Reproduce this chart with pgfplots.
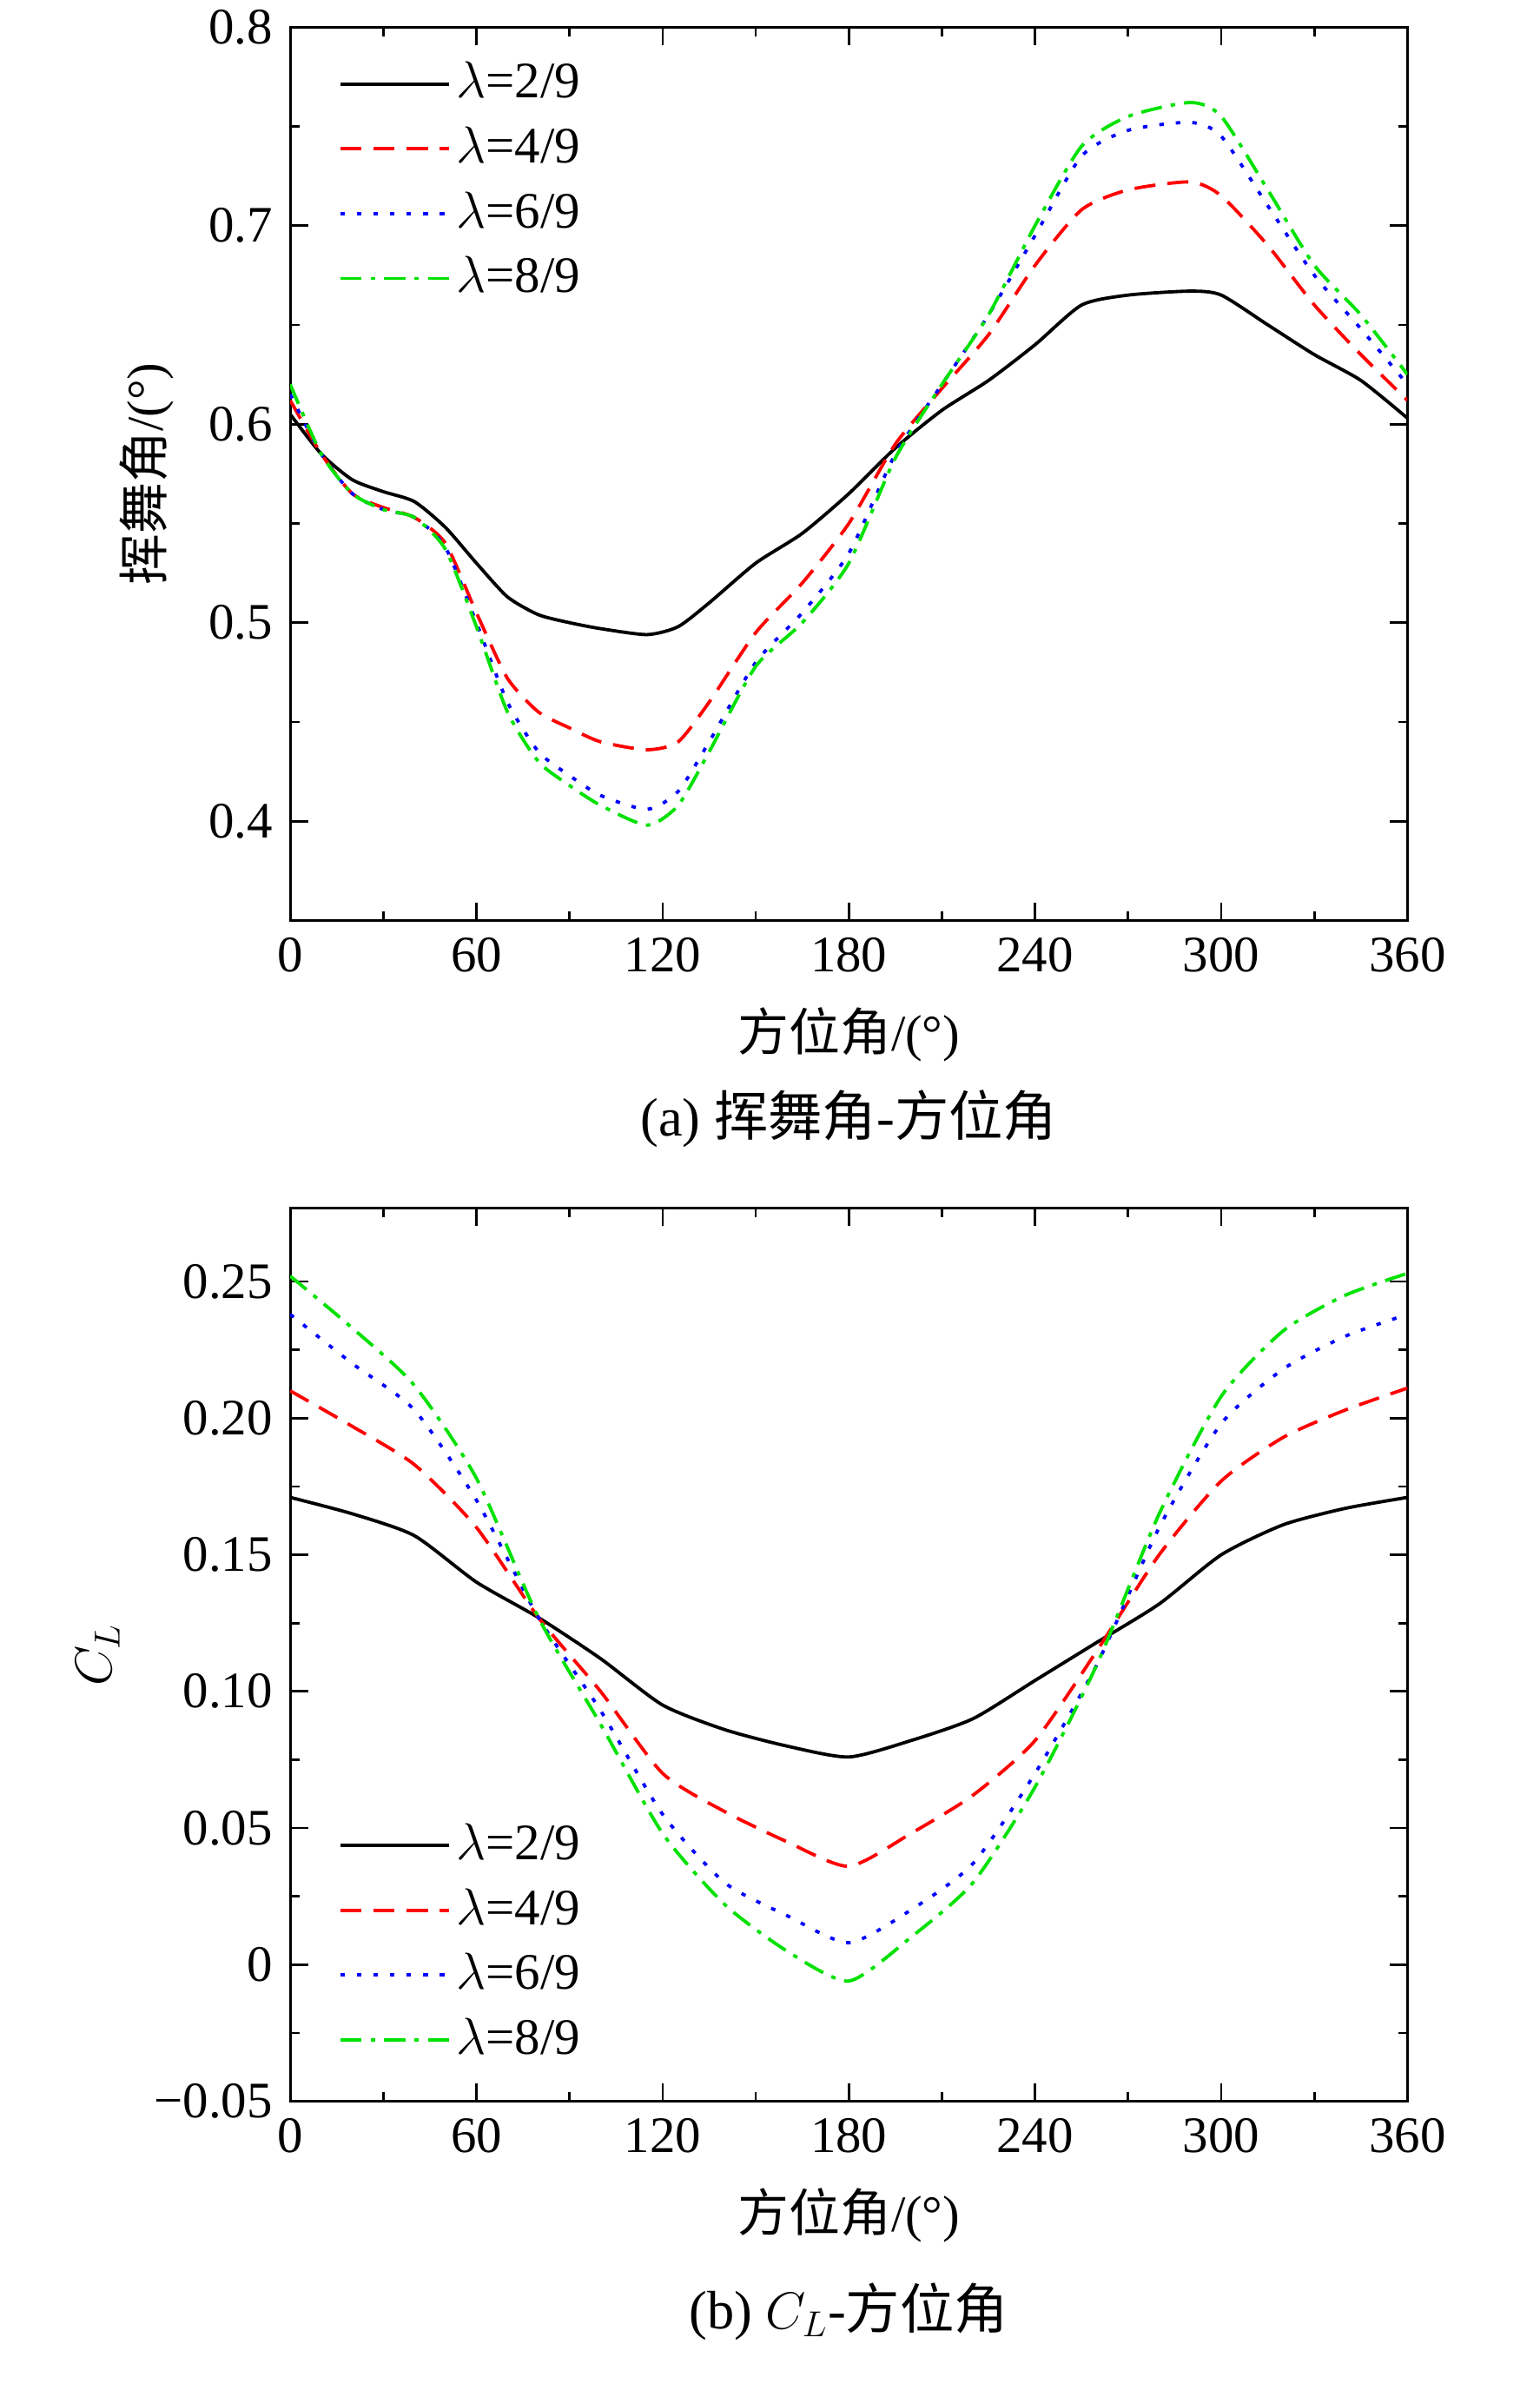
\documentclass[border=0pt]{standalone}
\usepackage{pgfplots}
\pgfplotsset{compat=1.18}
\usepackage{fontspec}
\setmainfont{Liberation Serif}
\newfontfamily\cjk{Noto Sans CJK SC}
\definecolor{mygreen}{RGB}{0,225,0}
\begin{document}
\fontsize{17}{20}\selectfont
\begin{tikzpicture}
\useasboundingbox (-96.5pt,-94pt) rectangle (415.5pt,698.5pt);
\pgfplotsset{every axis/.append style={
 scale only axis, width=371.5pt, height=297pt,
 xmin=0,xmax=360, xtick={0,60,...,360},
 xticklabels={0,60,120,180,240,300,360},
 minor x tick num=1, minor y tick num=1,
 tick align=inside, tick pos=both,
 major tick length=6pt, minor tick length=3pt,
 tick style={black, line width=0.8pt}, axis line style={line width=0.8pt},
 ticklabel style={font=\fontsize{17}{20}\selectfont},
 label style={font=\fontsize{17}{20}\selectfont},
 xlabel={\cjk 方位角\rmfamily/(°)},
 legend style={draw=none, fill=none, at={(0.035,0.975)}, anchor=north west, font=\fontsize{17}{20}\selectfont, row sep=3pt},
 legend cell align=left,
 legend image code/.code={\draw[#1] (0pt,0pt) -- (36pt,0pt);},
 every axis plot/.append style={line width=1.1pt, smooth, tension=0.4},
}}
\tikzset{dsh/.style={dash pattern=on 7pt off 4pt},
 dtt/.style={dash pattern=on 1.5pt off 4pt},
 dd/.style={dash pattern=on 7pt off 3pt on 1.5pt off 3pt}}
\begin{axis}[at={(0,392.5pt)},
 ymin=0.35,ymax=0.8, ytick={0.4,0.5,0.6,0.7,0.8},
 yticklabels={0.4,0.5,0.6,0.7,0.8},
 ylabel={\cjk 挥舞角\rmfamily/(°)}]
\addplot[black] coordinates {(0,0.605)(10,0.585)(20,0.572)(30,0.566)(40,0.561)(50,0.548)(60,0.530)(70,0.513)(80,0.504)(90,0.500)(100,0.497)(115,0.494)(125,0.498)(135,0.510)(150,0.530)(165,0.545)(180,0.565)(195,0.588)(210,0.607)(225,0.622)(240,0.640)(255,0.660)(270,0.665)(290,0.667)(300,0.665)(315,0.650)(330,0.635)(345,0.622)(360,0.603)};
\addplot[red,dsh] coordinates {(0,0.612)(10,0.585)(20,0.565)(30,0.558)(40,0.553)(50,0.540)(60,0.505)(70,0.472)(80,0.455)(90,0.447)(100,0.440)(115,0.436)(125,0.440)(135,0.460)(150,0.495)(165,0.520)(180,0.550)(195,0.590)(210,0.618)(225,0.645)(240,0.680)(255,0.708)(270,0.718)(290,0.722)(300,0.715)(315,0.690)(330,0.660)(345,0.635)(360,0.612)};
\addplot[blue,dtt] coordinates {(0,0.615)(10,0.585)(20,0.565)(30,0.557)(40,0.553)(50,0.538)(60,0.500)(70,0.460)(80,0.435)(90,0.423)(100,0.413)(115,0.406)(125,0.415)(135,0.440)(150,0.480)(165,0.505)(180,0.535)(195,0.585)(210,0.620)(225,0.655)(240,0.695)(255,0.735)(270,0.748)(290,0.752)(300,0.745)(315,0.710)(330,0.675)(345,0.648)(360,0.620)};
\addplot[mygreen,dd] coordinates {(0,0.620)(10,0.585)(20,0.565)(30,0.557)(40,0.553)(50,0.537)(60,0.498)(70,0.455)(80,0.430)(90,0.418)(100,0.408)(115,0.398)(125,0.408)(135,0.435)(150,0.478)(165,0.500)(180,0.530)(195,0.583)(210,0.620)(225,0.655)(240,0.700)(255,0.740)(270,0.755)(290,0.762)(300,0.755)(315,0.718)(330,0.680)(345,0.655)(360,0.625)};
\legend{$\lambda$=2/9,$\lambda$=4/9,$\lambda$=6/9,$\lambda$=8/9}
\end{axis}
\node at (185.75pt,326.5pt) {\fontsize{18}{20}\selectfont (a) {\cjk 挥舞角}-{\cjk 方位角}};
\begin{axis}[at={(0,0)},
 ymin=-0.05,ymax=0.277, ytick={-0.05,0,0.05,0.10,0.15,0.20,0.25},
 yticklabels={−0.05,0,0.05,0.10,0.15,0.20,0.25},
 ylabel={$C_L$},
 legend style={at={(0.035,0.03)}, anchor=south west}]
\addplot[black] coordinates {(0,0.171)(20,0.165)(40,0.157)(60,0.140)(80,0.127)(100,0.112)(120,0.095)(140,0.086)(160,0.080)(180,0.076)(200,0.082)(220,0.090)(240,0.104)(260,0.118)(280,0.132)(300,0.150)(320,0.161)(340,0.167)(360,0.171)};
\addplot[red,dsh] coordinates {(0,0.210)(20,0.197)(40,0.183)(60,0.160)(80,0.127)(100,0.100)(120,0.070)(140,0.056)(160,0.045)(180,0.036)(200,0.048)(220,0.062)(240,0.082)(260,0.115)(280,0.150)(300,0.177)(320,0.193)(340,0.203)(360,0.211)};
\addplot[blue,dtt] coordinates {(0,0.238)(20,0.220)(40,0.203)(60,0.170)(80,0.127)(100,0.093)(120,0.055)(140,0.030)(160,0.018)(180,0.008)(200,0.020)(220,0.037)(240,0.070)(260,0.110)(280,0.160)(300,0.198)(320,0.218)(340,0.230)(360,0.238)};
\addplot[mygreen,dd] coordinates {(0,0.252)(20,0.233)(40,0.212)(60,0.178)(80,0.127)(100,0.088)(120,0.048)(140,0.022)(160,0.005)(180,-0.006)(200,0.010)(220,0.030)(240,0.065)(260,0.110)(280,0.165)(300,0.208)(320,0.232)(340,0.245)(360,0.253)};
\legend{$\lambda$=2/9,$\lambda$=4/9,$\lambda$=6/9,$\lambda$=8/9}
\end{axis}
\node at (185.75pt,-70pt) {\fontsize{18}{20}\selectfont (b) $C_L$-{\cjk 方位角}};
\end{tikzpicture}
\end{document}
